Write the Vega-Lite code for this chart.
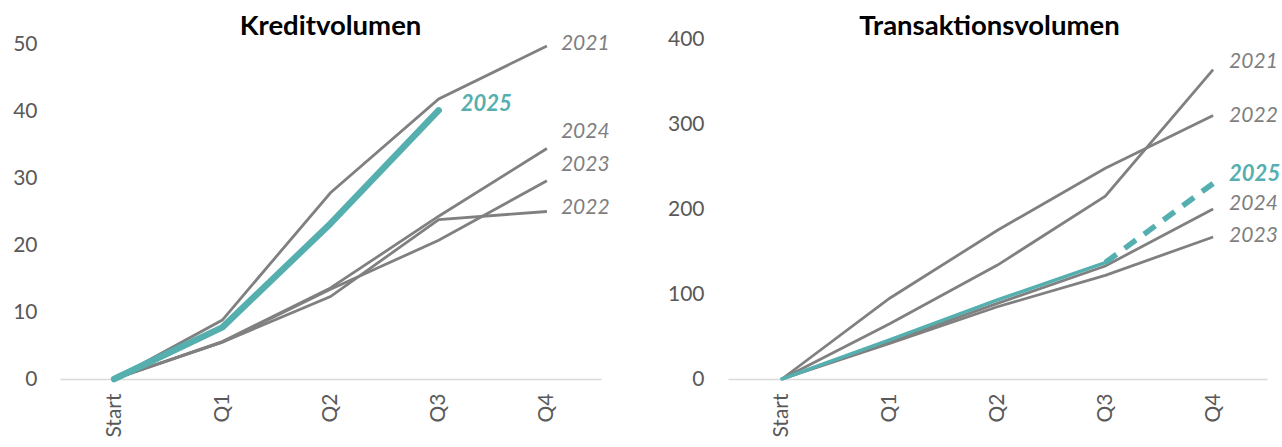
{
  "$schema": "https://vega.github.io/schema/vega-lite/v6.json",
  "padding": {"left": 12, "top": 12, "right": 0, "bottom": 0},
  "spacing": 127,
  "bounds": "flush",
  "config": {"font": "Lato", "view": {"stroke": null}},
  "datasets": {
    "kredit": [
      {"year": "2021", "q": "Start", "value": 0}, {"year": "2021", "q": "Q1", "value": 8.8}, {"year": "2021", "q": "Q2", "value": 27.8}, {"year": "2021", "q": "Q3", "value": 41.8}, {"year": "2021", "q": "Q4", "value": 49.7},
      {"year": "2022", "q": "Start", "value": 0}, {"year": "2022", "q": "Q1", "value": 5.5}, {"year": "2022", "q": "Q2", "value": 12.3}, {"year": "2022", "q": "Q3", "value": 23.8}, {"year": "2022", "q": "Q4", "value": 25.0},
      {"year": "2023", "q": "Start", "value": 0}, {"year": "2023", "q": "Q1", "value": 5.5}, {"year": "2023", "q": "Q2", "value": 13.4}, {"year": "2023", "q": "Q3", "value": 20.7}, {"year": "2023", "q": "Q4", "value": 29.6},
      {"year": "2024", "q": "Start", "value": 0}, {"year": "2024", "q": "Q1", "value": 5.6}, {"year": "2024", "q": "Q2", "value": 13.6}, {"year": "2024", "q": "Q3", "value": 24.3}, {"year": "2024", "q": "Q4", "value": 34.4},
      {"year": "2025", "q": "Start", "value": 0}, {"year": "2025", "q": "Q1", "value": 7.7}, {"year": "2025", "q": "Q2", "value": 23.2}, {"year": "2025", "q": "Q3", "value": 40.1}
    ],
    "trans": [
      {"year": "2021", "q": "Start", "value": 0}, {"year": "2021", "q": "Q1", "value": 65}, {"year": "2021", "q": "Q2", "value": 134}, {"year": "2021", "q": "Q3", "value": 215}, {"year": "2021", "q": "Q4", "value": 364},
      {"year": "2022", "q": "Start", "value": 0}, {"year": "2022", "q": "Q1", "value": 95}, {"year": "2022", "q": "Q2", "value": 175}, {"year": "2022", "q": "Q3", "value": 248}, {"year": "2022", "q": "Q4", "value": 310},
      {"year": "2023", "q": "Start", "value": 0}, {"year": "2023", "q": "Q1", "value": 42}, {"year": "2023", "q": "Q2", "value": 85}, {"year": "2023", "q": "Q3", "value": 122}, {"year": "2023", "q": "Q4", "value": 167},
      {"year": "2024", "q": "Start", "value": 0}, {"year": "2024", "q": "Q1", "value": 44}, {"year": "2024", "q": "Q2", "value": 89}, {"year": "2024", "q": "Q3", "value": 133}, {"year": "2024", "q": "Q4", "value": 200},
      {"year": "2025", "q": "Start", "value": 0}, {"year": "2025", "q": "Q1", "value": 46}, {"year": "2025", "q": "Q2", "value": 93}, {"year": "2025", "q": "Q3", "value": 137}, {"year": "2025", "q": "Q4", "value": 230}
    ]
  },
  "hconcat": [
    {
      "title": {"text": "Kreditvolumen", "fontSize": 27.5, "fontWeight": "bold", "color": "#000000", "offset": -7},
      "width": 541,
      "height": 340,
      "data": {"name": "kredit"},
      "encoding": {
        "x": {"field": "q", "type": "ordinal", "sort": ["Start", "Q1", "Q2", "Q3", "Q4"], "scale": {"type": "point", "padding": 0.5},
          "axis": {"title": null, "labelAngle": 270, "labelFontSize": 21, "labelColor": "#595959", "ticks": false, "labelPadding": 14, "domainColor": "#d9d9d9", "domainWidth": 1.5, "grid": false}},
        "y": {"field": "value", "type": "quantitative", "scale": {"domain": [0, 50.75], "nice": false},
          "axis": {"title": null, "values": [0, 10, 20, 30, 40, 50], "domain": false, "ticks": false, "grid": false, "labelFontSize": 21, "labelColor": "#595959", "labelPadding": 23}}
      },
      "layer": [
        {"transform": [{"filter": "datum.year != '2025'"}], "mark": {"type": "line", "color": "#808080", "strokeWidth": 2.8}, "encoding": {"detail": {"field": "year"}}},
        {"transform": [{"filter": "datum.year == '2025'"}], "mark": {"type": "line", "color": "#55AFAF", "strokeWidth": 6.5, "strokeCap": "round", "strokeJoin": "round"}, "encoding": {}},
        {"transform": [
            {"calculate": "indexof(['Start','Q1','Q2','Q3','Q4'], datum.q)", "as": "idx"},
            {"joinaggregate": [{"op": "max", "field": "idx", "as": "maxidx"}], "groupby": ["year"]},
            {"filter": "datum.idx == datum.maxidx && datum.year != '2025'"}],
          "mark": {"type": "text", "align": "left", "baseline": "middle", "dx": 14, "dy": {"expr": "({'2021': -2, '2022': -4, '2023': -16, '2024': -17})[datum.year]"}, "fontStyle": "italic", "fontSize": 21, "color": "#7f7f7f"},
          "encoding": {"text": {"field": "year"}}},
        {"transform": [
            {"calculate": "indexof(['Start','Q1','Q2','Q3','Q4'], datum.q)", "as": "idx"},
            {"joinaggregate": [{"op": "max", "field": "idx", "as": "maxidx"}], "groupby": ["year"]},
            {"filter": "datum.idx == datum.maxidx && datum.year == '2025'"}],
          "mark": {"type": "text", "align": "left", "baseline": "middle", "dx": 22, "dy": -6, "fontStyle": "italic", "fontWeight": "bold", "fontSize": 22, "color": "#55AFAF"},
          "encoding": {"text": {"field": "year"}}}
      ]
    },
    {
      "title": {"text": "Transaktionsvolumen", "fontSize": 27.5, "fontWeight": "bold", "color": "#000000", "offset": -12, "dx": -8},
      "width": 539,
      "height": 340,
      "data": {"name": "trans"},
      "encoding": {
        "x": {"field": "q", "type": "ordinal", "sort": ["Start", "Q1", "Q2", "Q3", "Q4"], "scale": {"type": "point", "padding": 0.5},
          "axis": {"title": null, "labelAngle": 270, "labelFontSize": 21, "labelColor": "#595959", "ticks": false, "labelPadding": 14, "domainColor": "#d9d9d9", "domainWidth": 1.5, "grid": false}},
        "y": {"field": "value", "type": "quantitative", "scale": {"domain": [0, 400], "nice": false},
          "axis": {"title": null, "values": [0, 100, 200, 300, 400], "domain": false, "ticks": false, "grid": false, "labelFontSize": 21, "labelColor": "#595959", "labelPadding": 24}}
      },
      "layer": [
        {"transform": [{"filter": "datum.year != '2025'"}], "mark": {"type": "line", "color": "#808080", "strokeWidth": 2.8}, "encoding": {"detail": {"field": "year"}}},
        {"transform": [{"filter": "datum.year == '2025' && datum.q != 'Q4'"}], "mark": {"type": "line", "color": "#55AFAF", "strokeWidth": 3.5, "strokeCap": "round", "strokeJoin": "round"}, "encoding": {}},
        {"transform": [{"filter": "datum.year == '2025' && (datum.q == 'Q3' || datum.q == 'Q4')"}], "mark": {"type": "line", "color": "#55AFAF", "strokeWidth": 5.5, "strokeDash": [14, 10]}, "encoding": {}},
        {"transform": [
            {"filter": "datum.q == 'Q4' && datum.year != '2025'"}],
          "mark": {"type": "text", "align": "left", "baseline": "middle", "dx": 16, "dy": {"expr": "({'2021': -8, '2022': 0, '2023': -1, '2024': -5})[datum.year]"}, "fontStyle": "italic", "fontSize": 21, "color": "#7f7f7f"},
          "encoding": {"text": {"field": "year"}}},
        {"transform": [
            {"filter": "datum.q == 'Q4' && datum.year == '2025'"}],
          "mark": {"type": "text", "align": "left", "baseline": "middle", "dx": 16, "dy": -10, "fontStyle": "italic", "fontWeight": "bold", "fontSize": 22, "color": "#55AFAF"},
          "encoding": {"text": {"field": "year"}}}
      ]
    }
  ]
}
